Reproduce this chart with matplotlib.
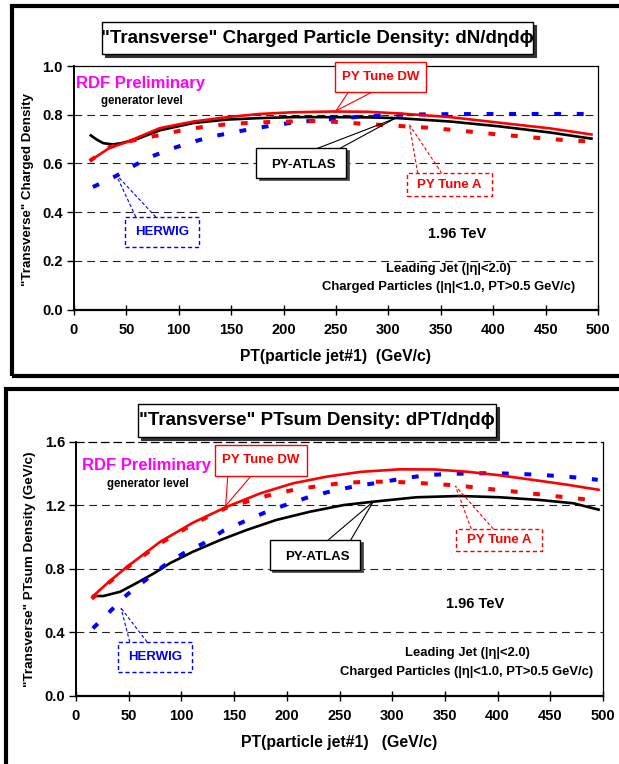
import matplotlib
matplotlib.use("Agg")
import matplotlib.pyplot as plt
import matplotlib.transforms as mt
from matplotlib.patches import Rectangle
from matplotlib.lines import Line2D

plt.rcParams['font.family'] = ['Liberation Sans', 'DejaVu Sans']
plt.rcParams['font.weight'] = 'bold'

# ---------------- data: top panel (charged particle density) ----------------
dw_top_x = [15, 34, 50, 82, 114, 146, 177, 209, 247, 280, 311, 359, 406, 454, 495]
dw_top_y = [0.610, 0.664, 0.687, 0.745, 0.772, 0.790, 0.803, 0.810, 0.813, 0.812, 0.805, 0.790, 0.767, 0.744, 0.718]

atlas_top_x = [15, 22, 28, 37, 45, 60, 82, 114, 146, 177, 209, 247, 280, 309, 359, 406, 454, 495]
atlas_top_y = [0.718, 0.697, 0.683, 0.678, 0.683, 0.700, 0.736, 0.766, 0.780, 0.786, 0.790, 0.790, 0.789, 0.786, 0.772, 0.752, 0.727, 0.701]

tunea_top_x = [15, 34, 55, 79, 101, 122, 142, 165, 187, 209, 231, 252, 274, 297, 317, 340, 362, 384, 406, 427, 449, 470, 492]
tunea_top_y = [0.610, 0.667, 0.693, 0.714, 0.734, 0.749, 0.759, 0.766, 0.770, 0.772, 0.774, 0.770, 0.763, 0.757, 0.752, 0.746, 0.737, 0.728, 0.718, 0.711, 0.702, 0.695, 0.690]

herwig_top_x = [18, 40, 53, 72, 95, 117, 136, 160, 184, 206, 225, 247, 268, 290, 311, 350, 400, 450, 495]
herwig_top_y = [0.503, 0.548, 0.581, 0.625, 0.663, 0.693, 0.714, 0.734, 0.752, 0.766, 0.774, 0.782, 0.790, 0.796, 0.800, 0.802, 0.803, 0.803, 0.803]

# ---------------- data: bottom panel (PTsum density) ----------------
dw_bot_x = [15, 30, 48, 65, 80, 111, 143, 175, 206, 238, 270, 307, 340, 371, 400, 434, 465, 497]
dw_bot_y = [0.62, 0.71, 0.81, 0.895, 0.97, 1.09, 1.19, 1.275, 1.338, 1.38, 1.41, 1.426, 1.425, 1.411, 1.39, 1.359, 1.33, 1.296]

atlas_bot_x = [15, 26, 42, 57, 74, 89, 111, 137, 162, 190, 222, 254, 282, 323, 364, 402, 440, 472, 497]
atlas_bot_y = [0.628, 0.628, 0.655, 0.708, 0.771, 0.834, 0.907, 0.981, 1.044, 1.107, 1.159, 1.201, 1.222, 1.25, 1.258, 1.25, 1.233, 1.212, 1.17]

tunea_bot_x = [15, 30, 48, 80, 111, 143, 165, 187, 209, 232, 253, 276, 298, 320, 342, 364, 386, 409, 431, 453, 475, 495]
tunea_bot_y = [0.61, 0.705, 0.805, 0.96, 1.08, 1.185, 1.228, 1.27, 1.30, 1.322, 1.340, 1.348, 1.348, 1.342, 1.333, 1.323, 1.306, 1.291, 1.275, 1.258, 1.243, 1.228]

herwig_bot_x = [16, 32, 48, 64, 83, 102, 121, 140, 159, 181, 203, 222, 244, 266, 289, 311, 333, 355, 377, 399, 421, 443, 466, 488, 495]
herwig_bot_y = [0.424, 0.529, 0.634, 0.718, 0.817, 0.897, 0.96, 1.04, 1.096, 1.159, 1.212, 1.254, 1.291, 1.321, 1.344, 1.369, 1.39, 1.397, 1.401, 1.401, 1.397, 1.39, 1.38, 1.365, 1.36]

x_ticks = [0, 50, 100, 150, 200, 250, 300, 350, 400, 450, 500]
top_yticks = [0.0, 0.2, 0.4, 0.6, 0.8, 1.0]
bot_yticks = [0.0, 0.4, 0.8, 1.2, 1.6]

W, H = 619, 764
fig = plt.figure(figsize=(W / 100, H / 100), dpi=100)


def fx(px):
    return px / W


def fy(py):
    return 1 - py / H


def frect(x0, y0, x1, y1, **kw):
    r = Rectangle((fx(x0), fy(y1)), fx(x1) - fx(x0), fy(y0) - fy(y1),
                  transform=fig.transFigure, **kw)
    fig.add_artist(r)
    return r


# outer frames
frect(12, 6, 640, 376, fill=False, edgecolor='black', linewidth=3.0)
frect(6, 389, 640, 800, fill=False, edgecolor='black', linewidth=3.0)

RED = '#ff0000'
BLUE = '#0000ff'
MAG = '#ff00ff'


def title_box(x0, y0, x1, y1, text, fs):
    frect(x0 + 3, y0 + 3, x1 + 3, y1 + 3, facecolor='#333333', edgecolor='#333333', linewidth=0.8, zorder=5)
    frect(x0, y0, x1, y1, facecolor='white', edgecolor='black', linewidth=1.0, zorder=6)
    fig.text(fx((x0 + x1) / 2), fy((y0 + y1) / 2), text, ha='center', va='center',
             fontsize=fs, fontweight='bold', zorder=7)


def style_axes(ax, yticks, grid_vals, ylim, dashed_top):
    ax.set_xlim(0, 500)
    ax.set_ylim(*ylim)
    ax.set_xticks(x_ticks)
    ax.set_yticks(yticks)
    ax.set_yticklabels([f"{v:.1f}" for v in yticks])
    ax.tick_params(axis='x', direction='inout', length=7, width=1.0, labelsize=10.5, pad=6)
    ax.tick_params(axis='y', direction='out', length=5, width=1.0, labelsize=10.5, pad=3)
    for lab in ax.get_xticklabels() + ax.get_yticklabels():
        lab.set_fontweight('bold')
    ax.spines['left'].set_linewidth(1.4)
    ax.spines['bottom'].set_linewidth(1.6)
    ax.spines['right'].set_linewidth(0.9)
    ax.spines['top'].set_linewidth(0.9)
    if dashed_top:
        ax.spines['top'].set_linestyle((0, (6, 4)))
    for v in grid_vals:
        ax.axhline(v, color='#222222', lw=0.8, ls=(0, (7, 4.5)), zorder=1)


def curves(ax, dw, atlas, tunea, herwig):
    ax.plot(*atlas, color='black', lw=1.9, zorder=3, solid_capstyle='butt')
    ax.plot(*herwig, color=BLUE, lw=2.9, ls=(0, (1.7, 3.9)), zorder=3)
    ax.plot(*tunea, color=RED, lw=2.9, ls=(0, (1.7, 3.9)), zorder=3)
    ax.plot(*dw, color=RED, lw=1.9, zorder=4, solid_capstyle='butt')


def callout(ax, box, base_pts, target, text, color, ls='-', shadow=False, fs=9.5):
    (x0, y0, x1, y1) = box
    for bp in base_pts:
        ax.add_line(Line2D([bp[0], target[0]], [bp[1], target[1]], color=color, lw=0.8,
                           ls=ls, zorder=8, clip_on=False))
    if shadow:
        ax.add_patch(Rectangle((x0, y0), x1 - x0, y1 - y0, transform=ax.transData,
                               facecolor='#444444', edgecolor='#444444', lw=0.5, zorder=8.5, clip_on=False))
    r = Rectangle((x0, y0), x1 - x0, y1 - y0, facecolor='white', edgecolor=color, lw=1.0,
                  ls=ls, zorder=9, clip_on=False)
    if shadow:
        off = mt.offset_copy(ax.transData, fig=fig, x=-2.5, y=2.5, units='dots')
        r.set_transform(off)
    ax.add_patch(r)
    ax.text((x0 + x1) / 2, (y0 + y1) / 2, text, color=color, fontsize=fs, fontweight='bold',
            ha='center', va='center', zorder=10, clip_on=False)


# ---------------- top panel ----------------
ax1 = fig.add_axes([fx(74), fy(309.5), fx(598) - fx(74), fy(66) - fy(309.5)])
style_axes(ax1, top_yticks, [0.2, 0.4, 0.6, 0.8], (0, 1.0), False)
curves(ax1, (dw_top_x, dw_top_y), (atlas_top_x, atlas_top_y),
       (tunea_top_x, tunea_top_y), (herwig_top_x, herwig_top_y))

callout(ax1, (249, 0.894, 336, 1.016), [(262, 0.894), (285, 0.894)], (250, 0.816), 'PY Tune DW', RED)
callout(ax1, (176.5, 0.531, 262, 0.653), [(227, 0.653), (250, 0.653)], (306, 0.784), 'PY-ATLAS', 'black', shadow=True)
callout(ax1, (318, 0.465, 399, 0.559), [(328, 0.559), (351, 0.559)], (320, 0.759), 'PY Tune A', RED, ls=(0, (3, 2)))
callout(ax1, (48.7, 0.257, 119, 0.380), [(59, 0.380), (78, 0.380)], (40, 0.555), 'HERWIG', BLUE, ls=(0, (3, 2)))

ax1.text(2, 0.93, 'RDF Preliminary', color=MAG, fontsize=12, fontweight='bold', ha='left', va='center')
ax1.text(26, 0.857, 'generator level', color='black', fontsize=8.3, fontweight='bold', ha='left', va='center')
ax1.text(366, 0.31, '1.96 TeV', fontsize=10.5, fontweight='bold', ha='center', va='center')
ax1.text(357, 0.168, 'Leading Jet (|η|<2.0)', fontsize=9.4, fontweight='bold', ha='center', va='center')
ax1.text(357, 0.093, 'Charged Particles (|η|<1.0, PT>0.5 GeV/c)', fontsize=9.4, fontweight='bold',
         ha='center', va='center')

fig.text(fx(28), fy(189), '"Transverse" Charged Density', rotation=90, ha='center', va='center',
         fontsize=9.6, fontweight='bold')
fig.text(fx(336), fy(357), 'PT(particle jet#1)  (GeV/c)', ha='center', va='center',
         fontsize=11.3, fontweight='bold')
title_box(102, 22.5, 533, 54, '"Transverse" Charged Particle Density: dN/dηdϕ', 13.5)

# ---------------- bottom panel ----------------
ax2 = fig.add_axes([fx(76), fy(695.7), fx(603) - fx(76), fy(441.7) - fy(695.7)])
style_axes(ax2, bot_yticks, [0.4, 0.8, 1.2], (0, 1.6), True)
curves(ax2, (dw_bot_x, dw_bot_y), (atlas_bot_x, atlas_bot_y),
       (tunea_bot_x, tunea_bot_y), (herwig_bot_x, herwig_bot_y))

callout(ax2, (132, 1.387, 219, 1.58), [(144, 1.387), (166.5, 1.387)], (142, 1.197), 'PY Tune DW', RED)
callout(ax2, (186, 0.779, 272, 0.968), [(237, 0.968), (259.5, 0.968)], (282, 1.222), 'PY-ATLAS', 'black', shadow=True)
callout(ax2, (360.5, 0.913, 442, 1.05), [(375, 1.05), (396, 1.05)], (360, 1.321), 'PY Tune A', RED, ls=(0, (3, 2)))
callout(ax2, (40, 0.149, 110.5, 0.338), [(51, 0.338), (67.5, 0.338)], (42.7, 0.552), 'HERWIG', BLUE, ls=(0, (3, 2)))

ax2.text(6, 1.447, 'RDF Preliminary', color=MAG, fontsize=12, fontweight='bold', ha='left', va='center')
ax2.text(29.6, 1.334, 'generator level', color='black', fontsize=8.3, fontweight='bold', ha='left', va='center')
ax2.text(379, 0.578, '1.96 TeV', fontsize=10.5, fontweight='bold', ha='center', va='center')
ax2.text(371, 0.269, 'Leading Jet (|η|<2.0)', fontsize=9.4, fontweight='bold', ha='center', va='center')
ax2.text(371, 0.151, 'Charged Particles (|η|<1.0, PT>0.5 GeV/c)', fontsize=9.4, fontweight='bold',
         ha='center', va='center')

fig.text(fx(30.5), fy(569), '"Transverse" PTsum Density (GeV/c)', rotation=90, ha='center', va='center',
         fontsize=9.7, fontweight='bold')
fig.text(fx(338.7), fy(743), 'PT(particle jet#1)   (GeV/c)', ha='center', va='center',
         fontsize=11.4, fontweight='bold')
title_box(137.5, 404, 496, 437, '"Transverse" PTsum Density: dPT/dηdϕ', 13.5)

fig.savefig('out.png', dpi=100)
